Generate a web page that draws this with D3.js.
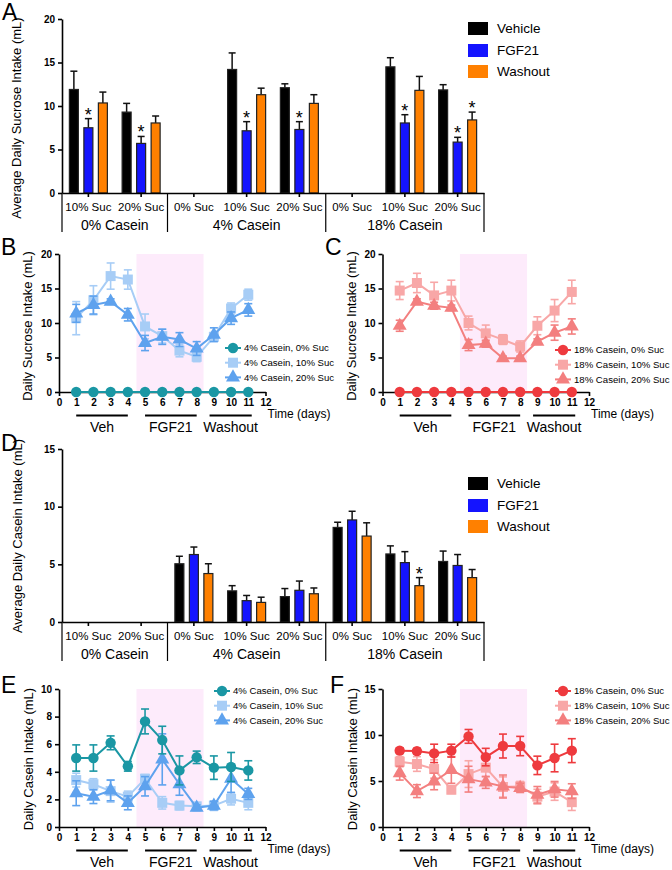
<!DOCTYPE html>
<html>
<head>
<meta charset="utf-8">
<script src="https://cdn.jsdelivr.net/npm/d3@7"></script>
<style>
  body { margin: 0; background: #fff; }
  svg text { font-family: "Liberation Sans", Arial, sans-serif; }
</style>
</head>
<body>
<script>
// ---- data: bar panels (A, D) ----
var catLabels = ["10% Suc", "20% Suc", "0% Suc", "10% Suc", "20% Suc", "0% Suc", "10% Suc", "20% Suc"];
var groupLabels = ["0% Casein", "4% Casein", "18% Casein"];
var groupStarts = [0, 2, 5, 8];
var barSeries = ["Vehicle", "FGF21", "Washout"];

// A: average daily sucrose intake
var sucVeh = [11.9, 9.3, null, 14.2, 12.1, null, 14.5, 11.85];
var sucVehErr = [2.1, 1.0, null, 1.9, 0.45, null, 1.05, 0.6];
var sucFgf = [7.5, 5.7, null, 7.15, 7.3, null, 8.05, 5.85];
var sucFgfErr = [1.05, 0.8, null, 1.05, 0.9, null, 0.95, 0.55];
var sucWash = [10.35, 8.05, null, 11.3, 10.3, null, 11.8, 8.4];
var sucWashErr = [1.25, 0.8, null, 0.75, 1.0, null, 1.6, 0.9];
var sucStars = [[], [0, 1, 3, 4, 6, 7], [7]];

// D: average daily casein intake
var casVeh = [null, null, 5.05, 2.7, 2.2, 8.2, 5.9, 5.25];
var casVehErr = [null, null, 0.65, 0.45, 0.7, 0.45, 0.7, 0.9];
var casFgf = [null, null, 5.85, 1.85, 2.75, 8.85, 5.15, 4.9];
var casFgfErr = [null, null, 0.65, 0.45, 0.8, 0.75, 0.95, 0.95];
var casWash = [null, null, 4.2, 1.7, 2.45, 7.45, 3.15, 3.85];
var casWashErr = [null, null, 0.85, 0.45, 0.5, 1.15, 0.7, 0.7];
var casStars = [[], [], [6]];

// ---- data: time course panels (B, C, E, F) ----
var days = [1, 2, 3, 4, 5, 6, 7, 8, 9, 10, 11];
var dayTicks = [0, 1, 2, 3, 4, 5, 6, 7, 8, 9, 10, 11, 12];
var shadeDays = [4.5, 8.4];
var periods = ["Veh", "FGF21", "Washout"];
var periodStart = [1, 5, 8.75];
var periodEnd = [4, 8, 11.2];

// B
var suc4_0 = [0, 0, 0, 0, 0, 0, 0, 0, 0, 0, 0];
var suc4_10 = [10.7, 13.3, 16.8, 16.3, 9.5, 8.1, 6.0, 5.1, 8.0, 12.1, 14.1];
var suc4_10Err = [2.4, 2.1, 1.9, 1.4, 1.8, 1.0, 0.9, 0.7, 0.6, 0.8, 0.8];
var suc4_20 = [11.4, 12.6, 13.1, 11.2, 7.1, 8.0, 7.6, 6.3, 8.3, 10.7, 11.9];
var suc4_20Err = [1.3, 1.3, 0.4, 0.9, 1.1, 1.1, 1.0, 1.0, 1.0, 0.9, 0.9];
// C
var suc18_0 = [0, 0, 0, 0, 0, 0, 0, 0, 0, 0, 0];
var suc18_10 = [14.7, 15.8, 14.0, 14.7, 10.0, 8.5, 7.6, 6.6, 9.6, 11.8, 14.5];
var suc18_10Err = [1.3, 1.4, 1.9, 1.5, 1.0, 1.2, 0.7, 0.8, 1.3, 1.6, 1.7];
var suc18_20 = [9.6, 13.1, 12.5, 12.2, 6.8, 7.0, 4.9, 4.9, 7.3, 8.6, 9.5];
var suc18_20Err = [0.8, 0.4, 0.5, 0.4, 0.8, 0.5, 0.3, 0.3, 0.4, 1.1, 1.1];
// E
var cas4_0 = [5.0, 5.0, 6.1, 4.4, 7.65, 6.3, 4.1, 5.05, 4.3, 4.35, 4.1];
var cas4_0Err = [0.95, 0.95, 0.5, 0.35, 0.9, 1.0, 1.05, 0.45, 0.85, 1.05, 0.7];
var cas4_10 = [3.4, 3.1, 2.6, 2.2, 3.5, 1.75, 1.55, 1.5, 1.55, 2.05, 1.75];
var cas4_10Err = [0.5, 0.4, 0.8, 0.4, 0.3, 0.45, 0.3, 0.2, 0.35, 0.45, 0.5];
var cas4_20 = [2.45, 2.2, 2.65, 1.75, 2.95, 4.9, 3.1, 1.4, 1.55, 3.5, 2.4];
var cas4_20Err = [0.9, 0.5, 0.75, 0.5, 0.7, 1.85, 0.8, 0.2, 0.3, 1.0, 0.4];
// F
var cas18_0 = [8.3, 8.25, 8.0, 8.3, 9.85, 7.6, 8.8, 8.8, 6.7, 7.5, 8.3];
var cas18_0Err = [0.3, 0.3, 1.0, 0.7, 0.75, 0.95, 1.3, 1.05, 1.0, 1.5, 1.3];
var cas18_10 = [7.1, 6.85, 6.3, 4.05, 5.75, 6.45, 4.35, 4.4, 3.3, 3.85, 2.7];
var cas18_10Err = [0.55, 0.8, 1.0, 0.4, 1.45, 1.0, 1.1, 0.55, 0.8, 0.95, 0.9];
var cas18_20 = [5.85, 3.9, 4.95, 6.2, 5.2, 4.85, 4.4, 4.25, 3.5, 4.1, 3.9];
var cas18_20Err = [0.75, 0.7, 0.9, 1.45, 1.4, 0.65, 1.25, 0.5, 0.9, 0.85, 0.8];

var barColors = ["#000000", "#1414ff", "#ff8000"];
var teal = "#1a97a4", lblue = "#a7cdf6", mblue = "#5ea2ee";
var red = "#ee3a3e", lpink = "#f8a7a7", salmon = "#f37f7f";

var svg = d3.select("body").append("svg")
  .attr("width", 672)
  .attr("height", 870);

function styleAxis(a) {
  a.selectAll("path, line").attr("stroke", "#000").attr("stroke-width", 1.6);
  a.selectAll("text").attr("fill", "#000");
}

function panelLetter(t, x, y) {
  svg.append("text").attr("x", x).attr("y", y).attr("font-size", 23).text(t);
}

function yTitle(t, x, yc) {
  svg.append("text")
    .attr("transform", "translate(" + x + "," + yc + ") rotate(-90)")
    .attr("text-anchor", "middle").attr("dy", "0.35em")
    .attr("font-size", 13).text(t);
}

// bar chart (A and D)
function barPanel(cfg) {
  var x = d3.scaleBand().domain(d3.range(catLabels.length)).range([62, 484]);
  var y = d3.scaleLinear().domain([0, cfg.ymax]).range([cfg.y0, cfg.ytop]);
  var off = d3.scalePoint().domain(barSeries).range([-14.5, 14.5]);
  var g = svg.append("g");

  barSeries.forEach(function(s, si) {
    var vals = cfg.vals[si], errs = cfg.errs[si];
    vals.forEach(function(v, i) {
      if (v == null) return;
      var cx = x(i) + x.bandwidth() / 2 + off(s);
      var top = y(v + errs[i]);
      g.append("line").attr("x1", cx).attr("x2", cx).attr("y1", y(v)).attr("y2", top)
        .attr("stroke", "#111").attr("stroke-width", 1.5);
      g.append("line").attr("x1", cx - 3.5).attr("x2", cx + 3.5).attr("y1", top).attr("y2", top)
        .attr("stroke", "#111").attr("stroke-width", 1.5);
      g.append("rect").attr("x", cx - 4.5).attr("y", y(v)).attr("width", 9)
        .attr("height", y(0) - y(v)).attr("fill", barColors[si])
        .attr("stroke", "#222").attr("stroke-width", 1.2);
      if (cfg.stars[si].indexOf(i) >= 0) {
        g.append("text").attr("x", cx).attr("y", top + 2).attr("text-anchor", "middle")
          .attr("font-size", 18).text("*");
      }
    });
  });

  var ax = g.append("g").attr("transform", "translate(62,0)")
    .call(d3.axisLeft(y).tickValues(cfg.ticks).tickSize(4).tickSizeOuter(0));
  ax.selectAll("text").attr("font-size", 10).attr("font-weight", "bold");
  styleAxis(ax);

  var bx = g.append("g").attr("transform", "translate(0," + cfg.y0 + ")")
    .call(d3.axisBottom(x).tickFormat(function(i) { return catLabels[i]; }).tickSize(4).tickSizeOuter(0));
  bx.selectAll("text").attr("font-size", 11.5).attr("dy", "0.95em");
  styleAxis(bx);

  groupStarts.forEach(function(gs) {
    var gx = gs < catLabels.length ? x(gs) : x(gs - 1) + x.bandwidth();
    g.append("line").attr("x1", gx).attr("x2", gx).attr("y1", cfg.y0).attr("y2", cfg.y0 + 39)
      .attr("stroke", "#000").attr("stroke-width", 1.2);
  });
  groupLabels.forEach(function(t, k) {
    var x1 = x(groupStarts[k]), x2 = x(groupStarts[k + 1] - 1) + x.bandwidth();
    g.append("text").attr("x", (x1 + x2) / 2).attr("y", cfg.y0 + 37)
      .attr("text-anchor", "middle").attr("font-size", 14).text(t);
  });

  barSeries.forEach(function(s, si) {
    var ly = cfg.legendY[si];
    g.append("rect").attr("x", 468).attr("y", ly - 6.5).attr("width", 20).attr("height", 13)
      .attr("fill", barColors[si]);
    g.append("text").attr("x", 497).attr("y", ly).attr("dy", "0.35em")
      .attr("font-size", 13.5).text(s);
  });
}

// time course chart (B, C, E, F)
function linePanel(cfg) {
  var x = d3.scaleLinear().domain([0, 12]).range([cfg.left, cfg.left + 206.5]);
  var y = d3.scaleLinear().domain([0, cfg.ymax]).range([cfg.y0, cfg.ytop]);
  var g = svg.append("g");

  g.append("rect").attr("x", x(shadeDays[0])).attr("y", y(cfg.ymax))
    .attr("width", x(shadeDays[1]) - x(shadeDays[0])).attr("height", y(0) - y(cfg.ymax))
    .attr("fill", "#fdebfb");

  var bx = g.append("g").attr("transform", "translate(0," + cfg.y0 + ")")
    .call(d3.axisBottom(x).tickValues(dayTicks).tickSize(4).tickSizeOuter(0));
  bx.selectAll("text").attr("font-size", 10).attr("font-weight", "bold");
  styleAxis(bx);
  var ax = g.append("g").attr("transform", "translate(" + cfg.left + ",0)")
    .call(d3.axisLeft(y).tickValues(cfg.ticks).tickSize(4).tickSizeOuter(0));
  ax.selectAll("text").attr("font-size", 10).attr("font-weight", "bold");
  styleAxis(ax);

  var line = d3.line().x(function(d, i) { return x(days[i]); }).y(function(d) { return y(d); });
  cfg.series.forEach(function(s) {
    g.append("path").datum(s.vals).attr("d", line).attr("fill", "none")
      .attr("stroke", s.color).attr("stroke-width", 2);
    if (s.errs) {
      s.vals.forEach(function(v, i) {
        var cx = x(days[i]), e = s.errs[i];
        g.append("line").attr("x1", cx).attr("x2", cx).attr("y1", y(v - e)).attr("y2", y(v + e))
          .attr("stroke", s.color).attr("stroke-width", 1.6);
        [v - e, v + e].forEach(function(c) {
          g.append("line").attr("x1", cx - 4).attr("x2", cx + 4).attr("y1", y(c)).attr("y2", y(c))
            .attr("stroke", s.color).attr("stroke-width", 1.6);
        });
      });
    }
    g.selectAll(null).data(s.vals).enter().append("path")
      .attr("transform", function(d, i) { return "translate(" + x(days[i]) + "," + y(d) + ")"; })
      .attr("d", d3.symbol().type(s.symbol).size(s.size))
      .attr("fill", s.color);
  });

  // legend (drawn in series order 0%, 10%, 20%)
  cfg.legend.forEach(function(s, k) {
    var ly = cfg.legendY + k * 14.7, lx = cfg.legendX;
    g.append("line").attr("x1", lx - 8).attr("x2", lx + 8).attr("y1", ly).attr("y2", ly)
      .attr("stroke", s.color).attr("stroke-width", 2);
    g.append("path").attr("transform", "translate(" + lx + "," + ly + ")")
      .attr("d", d3.symbol().type(s.symbol).size(s.size)).attr("fill", s.color);
    g.append("text").attr("x", lx + 11).attr("y", ly).attr("dy", "0.35em")
      .attr("font-size", 9.6).text(s.name);
  });

  // treatment periods
  periods.forEach(function(p, k) {
    var x1 = x(periodStart[k]), x2 = x(periodEnd[k]);
    g.append("line").attr("x1", x1).attr("x2", x2).attr("y1", cfg.y0 + 23.5).attr("y2", cfg.y0 + 23.5)
      .attr("stroke", "#000").attr("stroke-width", 2);
    g.append("text").attr("x", (x1 + x2) / 2).attr("y", cfg.y0 + 40)
      .attr("text-anchor", "middle").attr("font-size", 14).text(p);
  });
  g.append("text").attr("x", x(12) + 2).attr("y", cfg.y0 + 26)
    .attr("font-size", 12).text("Time (days)");
}

// ---- panel A ----
barPanel({
  y0: 193, ytop: 19, ymax: 20, ticks: [0, 5, 10, 15, 20],
  vals: [sucVeh, sucFgf, sucWash], errs: [sucVehErr, sucFgfErr, sucWashErr],
  stars: sucStars, legendY: [28.5, 50.5, 71.5]
});
panelLetter("A", 2, 20);
yTitle("Average Daily Sucrose Intake (mL)", 16, 118);

// ---- panel B ----
var bSeries = [
  { name: "4% Casein, 10% Suc", vals: suc4_10, errs: suc4_10Err, color: lblue, symbol: d3.symbolSquare, size: 100 },
  { name: "4% Casein, 20% Suc", vals: suc4_20, errs: suc4_20Err, color: mblue, symbol: d3.symbolTriangle, size: 85 },
  { name: "4% Casein, 0% Suc", vals: suc4_0, errs: null, color: teal, symbol: d3.symbolCircle, size: 85 }
];
linePanel({
  left: 59, y0: 392, ytop: 254, ymax: 20, ticks: [0, 5, 10, 15, 20],
  series: bSeries, legend: [bSeries[2], bSeries[0], bSeries[1]], legendX: 233, legendY: 348
});
panelLetter("B", 1, 255);
yTitle("Daily Sucrose Intake (mL)", 27, 326);

// ---- panel C ----
var cSeries = [
  { name: "18% Casein, 10% Suc", vals: suc18_10, errs: suc18_10Err, color: lpink, symbol: d3.symbolSquare, size: 100 },
  { name: "18% Casein, 20% Suc", vals: suc18_20, errs: suc18_20Err, color: salmon, symbol: d3.symbolTriangle, size: 85 },
  { name: "18% Casein, 0% Suc", vals: suc18_0, errs: null, color: red, symbol: d3.symbolCircle, size: 85 }
];
linePanel({
  left: 382.5, y0: 392, ytop: 254, ymax: 20, ticks: [0, 5, 10, 15, 20],
  series: cSeries, legend: [cSeries[2], cSeries[0], cSeries[1]], legendX: 563, legendY: 350
});
panelLetter("C", 325, 255);
yTitle("Daily Sucrose Intake (mL)", 351, 326);

// ---- panel D ----
barPanel({
  y0: 622, ytop: 449, ymax: 15, ticks: [0, 5, 10, 15],
  vals: [casVeh, casFgf, casWash], errs: [casVehErr, casFgfErr, casWashErr],
  stars: casStars, legendY: [483.5, 505.5, 526.5]
});
panelLetter("D", 1, 451);
yTitle("Average Daily Casein Intake (mL)", 17, 536);

// ---- panel E ----
var eSeries = [
  { name: "4% Casein, 10% Suc", vals: cas4_10, errs: cas4_10Err, color: lblue, symbol: d3.symbolSquare, size: 100 },
  { name: "4% Casein, 20% Suc", vals: cas4_20, errs: cas4_20Err, color: mblue, symbol: d3.symbolTriangle, size: 85 },
  { name: "4% Casein, 0% Suc", vals: cas4_0, errs: cas4_0Err, color: teal, symbol: d3.symbolCircle, size: 85 }
];
linePanel({
  left: 59, y0: 827, ytop: 689, ymax: 10, ticks: [0, 2, 4, 6, 8, 10],
  series: eSeries, legend: [eSeries[2], eSeries[0], eSeries[1]], legendX: 222, legendY: 691
});
panelLetter("E", 1, 693);
yTitle("Daily Casein Intake (mL)", 28, 759);

// ---- panel F ----
var fSeries = [
  { name: "18% Casein, 10% Suc", vals: cas18_10, errs: cas18_10Err, color: lpink, symbol: d3.symbolSquare, size: 100 },
  { name: "18% Casein, 20% Suc", vals: cas18_20, errs: cas18_20Err, color: salmon, symbol: d3.symbolTriangle, size: 85 },
  { name: "18% Casein, 0% Suc", vals: cas18_0, errs: cas18_0Err, color: red, symbol: d3.symbolCircle, size: 85 }
];
linePanel({
  left: 382.5, y0: 827, ytop: 689, ymax: 15, ticks: [0, 5, 10, 15],
  series: fSeries, legend: [fSeries[2], fSeries[0], fSeries[1]], legendX: 563, legendY: 691
});
panelLetter("F", 330, 693);
yTitle("Daily Casein Intake (mL)", 352, 759);
</script>
</body>
</html>
